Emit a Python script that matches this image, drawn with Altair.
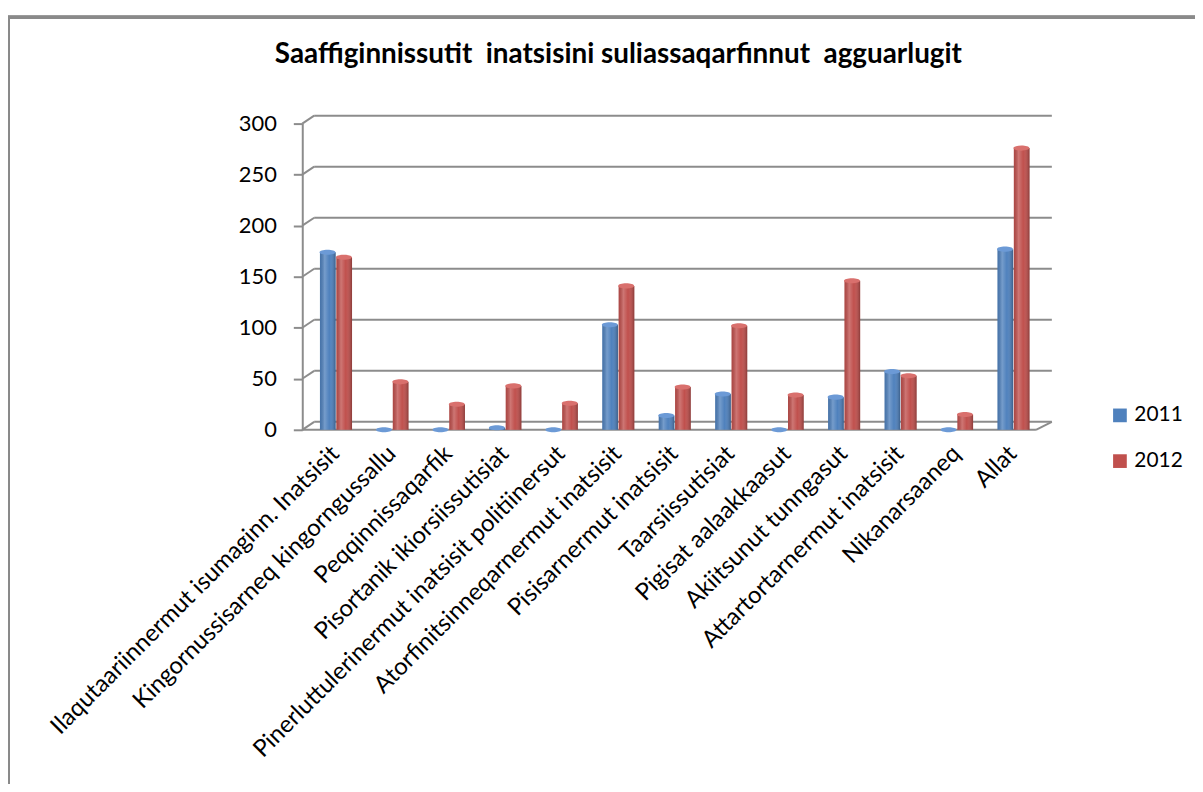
import altair as alt
import pandas as pd

categories = [
    "Ilaqutaariinnermut isumaginn. Inatsisit",
    "Kingornussisarneq kingorngussallu",
    "Peqqinnissaqarfik",
    "Pisortanik ikiorsiissutisiat",
    "Pinerluttulerinermut inatsisit politiinersut",
    "Atorfinitsinneqarnermut inatsisit",
    "Pisisarnermut inatsisit",
    "Taarsiissutisiat",
    "Pigisat aalaakkaasut",
    "Akiitsunut tunngasut",
    "Attartortarnermut inatsisit",
    "Nikanarsaaneq",
    "Allat",
]
series = ["2011", "2012"]
values_2011 = [174, 0, 0, 2, 0, 103, 14, 35, 0, 32, 57, 0, 177]
values_2012 = [169, 47, 25, 43, 26, 141, 42, 102, 34, 146, 53, 15, 276]
y_ticks = [0, 50, 100, 150, 200, 250, 300]
colors = ["#4F81BD", "#C0504D"]
title_text = "Saaffiginnissutit \u00a0inatsisini suliassaqarfinnut \u00a0agguarlugit"

rows = []
for c, a, b in zip(categories, values_2011, values_2012):
    rows.append({"category": c, "year": series[0], "value": a})
    rows.append({"category": c, "year": series[1], "value": b})
df = pd.DataFrame(rows)
ticks_df = pd.DataFrame({"v": y_ticks})
title_df = pd.DataFrame({"t": [title_text]})

W, H = 740, 308
FONT = "Lato"
GRID = "#8c8c8c"

x_enc = alt.X(
    "category:N",
    sort=categories,
    scale=alt.Scale(paddingInner=0.42, paddingOuter=0.225, align=0.67),
    axis=alt.Axis(
        title=None, labelAngle=-45, labelAlign="right", labelBaseline="middle",
        labelFontSize=24, labelFont=FONT, labelColor="#000000", labelPadding=20,
        ticks=False, domain=False, labelLimit=800,
    ),
)
y_scale = alt.Scale(domain=[0, 300], nice=False)
y_enc = alt.Y(
    "value:Q", scale=y_scale,
    axis=alt.Axis(
        title=None, values=y_ticks, grid=False, labelFontSize=22, labelFont=FONT,
        labelColor="#000000", tickSize=9, tickColor=GRID, tickWidth=2,
        domainColor=GRID, domainWidth=2, labelPadding=17,
    ),
)
xoff = alt.XOffset("year:N", sort=series)

frame = alt.Chart(ticks_df).mark_rect(
    fill=None, stroke="#8a8a8a", strokeWidth=3
).encode(
    x=alt.value(-296), x2=alt.value(920), y=alt.value(-107), y2=alt.value(700)
)

title = alt.Chart(title_df).mark_text(
    font=FONT, fontSize=28, fontWeight="bold", color="#000000",
    align="center", baseline="alphabetic",
).encode(text="t:N", x=alt.value(318), y=alt.value(-61))

grid = alt.Chart(ticks_df).mark_rule(color=GRID, strokeWidth=2, yOffset=-8, y2Offset=-8).encode(
    y=alt.Y("v:Q", scale=y_scale), x=alt.value(12), x2=alt.value(W + 14)
)
diag = alt.Chart(ticks_df).mark_rule(color=GRID, strokeWidth=2, y2Offset=-8).encode(
    y=alt.Y("v:Q", scale=y_scale), y2="v:Q", x=alt.value(0), x2=alt.value(12)
)
floor_df = pd.DataFrame({"v": [0]})
floor_front = alt.Chart(floor_df).mark_rule(color=GRID, strokeWidth=2).encode(
    y=alt.Y("v:Q", scale=y_scale), x=alt.value(0), x2=alt.value(W - 2)
)
floor_side = alt.Chart(floor_df).mark_rule(color=GRID, strokeWidth=2, y2Offset=-8).encode(
    y=alt.Y("v:Q", scale=y_scale), y2="v:Q", x=alt.value(W - 2), x2=alt.value(W + 14)
)

bars = alt.Chart(df).mark_bar(width={"band": 0.96}).encode(
    x=x_enc, xOffset=xoff, y=y_enc,
    color=alt.Color(
        "year:N", sort=series, scale=alt.Scale(domain=series, range=colors),
        legend=alt.Legend(
            title=None, orient="none", legendX=812, legendY=283,
            symbolType="square", symbolSize=190, symbolStrokeWidth=0,
            labelFontSize=21, labelFont=FONT, labelColor="#000000",
            rowPadding=24, labelOffset=4, labelLimit=200,
        ),
    ),
)
shade = alt.Chart(df).mark_bar(
    width={"band": 0.96},
    fill=alt.Gradient(
        gradient="linear", x1=0, x2=1, y1=0, y2=0,
        stops=[
            alt.GradientStop(offset=0, color="rgba(0,0,0,0.10)"),
            alt.GradientStop(offset=0.3, color="rgba(255,255,255,0.22)"),
            alt.GradientStop(offset=0.6, color="rgba(255,255,255,0.0)"),
            alt.GradientStop(offset=1, color="rgba(0,0,0,0.28)"),
        ],
    ),
).encode(x=alt.X("category:N", sort=categories), xOffset=xoff, y=alt.Y("value:Q", scale=y_scale))

ellipse = "M -1 0 A 1 0.32 0 1 0 1 0 A 1 0.32 0 1 0 -1 0 Z"
caps = alt.Chart(df).mark_point(shape=ellipse, filled=True, size=256, opacity=1).encode(
    x=alt.X("category:N", sort=categories), xOffset=xoff,
    y=alt.Y("value:Q", scale=y_scale),
    color=alt.Color("year:N", sort=series,
                    scale=alt.Scale(domain=series, range=["#6C9AD6", "#D9706D"]),
                    legend=None),
)

chart = alt.layer(frame, title, grid, diag, floor_front, floor_side, bars, shade, caps).resolve_scale(
    color="independent"
).properties(
    width=W, height=H,
    autosize=alt.AutoSizeParams(type="none"),
    padding={"left": 296, "top": 114, "right": 158, "bottom": 354},
).configure_view(stroke=None)

chart.save("out.html", embed_options={"renderer": "svg", "actions": False})
